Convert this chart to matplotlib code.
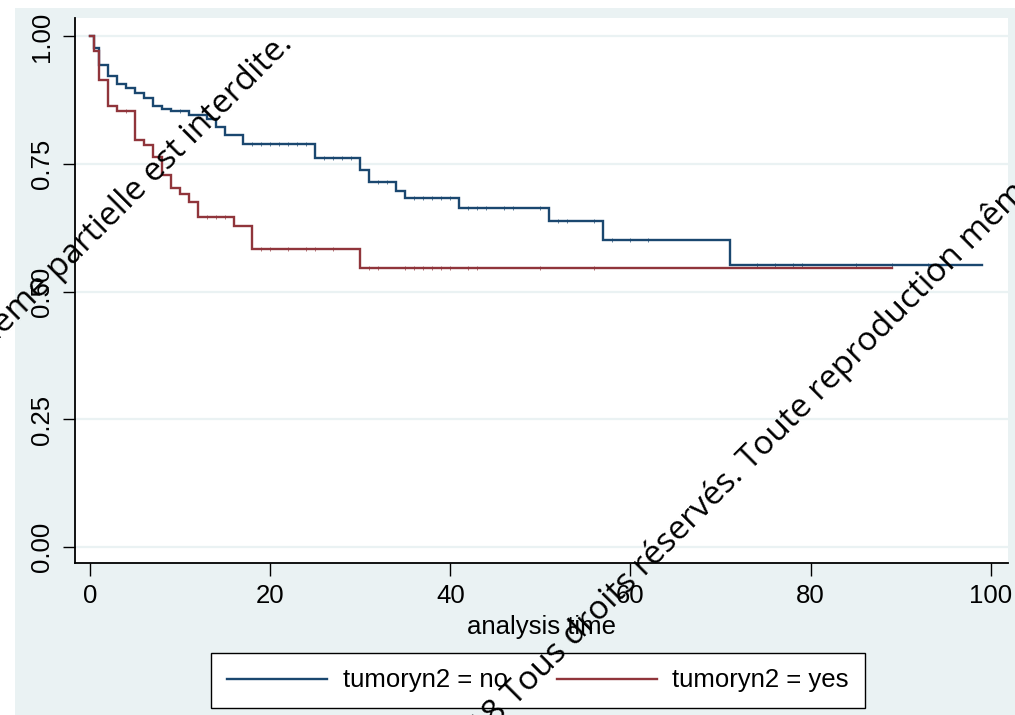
import matplotlib
matplotlib.use("Agg")
import matplotlib.pyplot as plt
from matplotlib.patches import Rectangle

# ---------------- data ----------------
no_times = [0, 0.5, 1, 2, 3, 4, 5, 6, 7, 8, 9, 11, 13, 14, 15, 17, 25, 30, 31, 34, 35, 41, 51, 57, 71]
no_surv = [1.0, 0.978, 0.944, 0.923, 0.907, 0.899, 0.889, 0.880, 0.863, 0.858, 0.853, 0.847, 0.838,
           0.823, 0.807, 0.790, 0.762, 0.738, 0.714, 0.698, 0.683, 0.664, 0.638, 0.601, 0.552]
no_end = 99

yes_times = [0, 0.5, 1, 2, 3, 5, 6, 7, 8, 9, 10, 11, 12, 16, 18, 30]
yes_surv = [1.0, 0.971, 0.914, 0.863, 0.853, 0.798, 0.787, 0.764, 0.728, 0.703, 0.691, 0.676,
            0.647, 0.629, 0.583, 0.546]
yes_end = 89

no_censor = [10, 18, 19, 20, 21, 22, 23, 24, 26, 27, 28, 29, 32, 33, 36, 37, 38, 39, 40,
             42, 43, 44, 46, 47, 50, 52, 53, 56, 58, 60, 62, 74, 76, 78, 79, 85, 89, 93]
yes_censor = [4, 13, 14, 15, 19, 20, 22, 24, 25, 27, 31, 32, 35, 36, 37, 38, 39, 40, 42, 43, 50, 56]

labels = ["tumoryn2 = no", "tumoryn2 = yes"]
x_ticks = [0, 20, 40, 60, 80, 100]
y_ticks = [0.00, 0.25, 0.50, 0.75, 1.00]
y_ticklabels = ["0.00", "0.25", "0.50", "0.75", "1.00"]
xlabel = "analysis time"
watermark_a = "© 2018 "
watermark_b = "Tous droits réservés. Toute reproduction même partielle est interdite."

# ---------------- style ----------------
BG = "#EAF2F3"
BLUE = "#1A476F"
RED = "#90353B"
FONT = "Liberation Sans"

W, H = 1015, 715
fig = plt.figure(figsize=(W / 100, H / 100), dpi=100, facecolor="white")
fig.add_artist(Rectangle((15 / W, 0), 1 - 15 / W, 1 - 8 / H, transform=fig.transFigure,
                         facecolor=BG, edgecolor="none", zorder=-10))

ax = fig.add_axes([75 / W, 1 - 563 / H, (1008 - 75) / W, (563 - 18) / H])
ax.set_facecolor("white")


def step_xy(times, surv, end):
    xs, ys = [], []
    for i, (t, s) in enumerate(zip(times, surv)):
        t_next = times[i + 1] if i + 1 < len(times) else end
        xs += [t, t_next]
        ys += [s, s]
    return xs, ys


def surv_at(times, surv, t):
    val = surv[0]
    for tt, s in zip(times, surv):
        if tt <= t:
            val = s
    return val


for times, surv, end, cens, col, lab in [
    (no_times, no_surv, no_end, no_censor, BLUE, labels[0]),
    (yes_times, yes_surv, yes_end, yes_censor, RED, labels[1]),
]:
    xs, ys = step_xy(times, surv, end)
    ax.plot(xs, ys, color=col, lw=1.7, label=lab, solid_joinstyle="miter", zorder=3)
    ax.plot(cens, [surv_at(times, surv, c) for c in cens], linestyle="none", marker="|",
            markersize=3, markeredgewidth=0.6, color=col, alpha=0.8, zorder=3)

ax.set_xlim(-1.65, 101.9)
ax.set_ylim(-0.031, 1.036)
ax.set_xticks(x_ticks)
ax.set_yticks(y_ticks)
ax.set_yticklabels(y_ticklabels, rotation=90, va="center")
ax.tick_params(axis="both", length=9, width=1.0, color="black", labelsize=18.5, pad=6)
for lbl in ax.get_xticklabels() + ax.get_yticklabels():
    lbl.set_fontfamily(FONT)
ax.grid(axis="y", color=BG, lw=1.6)
ax.set_axisbelow(True)
for side in ["top", "right"]:
    ax.spines[side].set_visible(False)
for side in ["left", "bottom"]:
    ax.spines[side].set_linewidth(1.3)
    ax.spines[side].set_color("black")
ax.set_xlabel(xlabel, fontsize=18.5, fontfamily=FONT, labelpad=5)

leg = fig.legend(loc="center", bbox_to_anchor=(538 / W, 1 - 680.5 / H), ncol=2,
                 frameon=True, fancybox=False, edgecolor="black", facecolor="white",
                 framealpha=1, prop={"family": FONT, "size": 18.5}, handlelength=3.9,
                 handletextpad=0.6, columnspacing=1.9, borderpad=0.62, borderaxespad=0)
leg.get_frame().set_linewidth(1.0)
for h in leg.get_lines():
    h.set_linewidth(1.7)

# watermark texts
ang = 45
wm_kw = dict(rotation=ang, rotation_mode="anchor", va="baseline", fontsize=24,
             fontfamily="Open Sans", color="black", zorder=20)
fig.text(294 / W, 1 - 45 / H, watermark_a + watermark_b, ha="right", **wm_kw)
fig.text(515 / W, 1 - 706 / H, watermark_b, ha="left", **wm_kw)
fig.text(515 / W, 1 - 706 / H, watermark_a, ha="right", **wm_kw)

fig.savefig("out.png", dpi=100, facecolor="white")
